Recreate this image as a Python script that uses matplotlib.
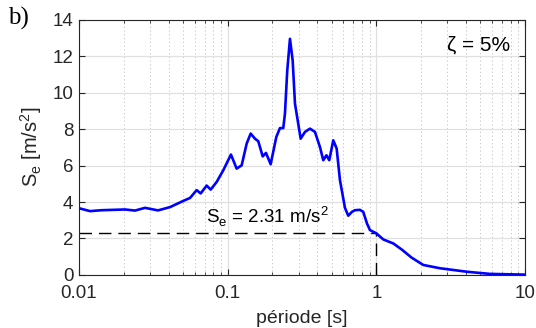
import matplotlib
matplotlib.use("Agg")
import matplotlib.pyplot as plt
from matplotlib.ticker import LogLocator, NullFormatter

# spectre de réponse (période en s, accélération en m/s^2)
periods = [0.01, 0.01186, 0.01421, 0.02039, 0.0238, 0.02779, 0.03399, 0.04093,
           0.05029, 0.05578, 0.06187, 0.06582, 0.07224, 0.07685, 0.08433, 0.09342,
           0.1052, 0.1149, 0.1242, 0.1342, 0.1428, 0.1526, 0.1606, 0.172, 0.181,
           0.1946, 0.2123, 0.2247, 0.2365, 0.2428, 0.2516, 0.2624, 0.2736, 0.2836,
           0.3097, 0.331, 0.3577, 0.3865, 0.4176, 0.4396, 0.4617, 0.4823, 0.5131,
           0.5408, 0.5691, 0.615, 0.6471, 0.6853, 0.718, 0.7757, 0.8164, 0.8646,
           0.9057, 1.0016, 1.1128, 1.2347, 1.2993, 1.4796, 1.7278, 2.068, 2.677,
           4.049, 5.808, 10.0]
accel = [3.66, 3.5, 3.55, 3.59, 3.53, 3.68, 3.54, 3.72,
         4.06, 4.22, 4.65, 4.47, 4.9, 4.68, 5.1, 5.74,
         6.6, 5.83, 6.01, 7.2, 7.75, 7.47, 7.33, 6.5, 6.69,
         6.07, 7.56, 8.05, 8.05, 8.84, 11.2, 12.94, 11.76, 9.39,
         7.47, 7.84, 8.02, 7.84, 7.01, 6.29, 6.56, 6.29, 7.38,
         6.93, 5.2, 3.68, 3.25, 3.46, 3.55, 3.57, 3.46, 2.83,
         2.46, 2.28, 1.95, 1.8, 1.73, 1.4, 0.95, 0.55, 0.37,
         0.18, 0.06, 0.02]

se_period = 1.0
se_value = 2.31

grey = (0.15, 0.15, 0.15)
plt.rcParams['font.family'] = ['Liberation Sans', 'DejaVu Sans']

fig = plt.figure(figsize=(5.36, 3.28), dpi=100)
ax = fig.add_axes([0.1474, 0.1616, 0.8321, 0.7789])

ax.plot(periods, accel, color=(0, 0, 1), lw=1.9, zorder=3)
ax.plot([0.01, se_period], [se_value, se_value], color='k', lw=1.0,
        dashes=(9, 5), zorder=2)
ax.plot([se_period, se_period], [0, se_value], color='k', lw=1.0,
        dashes=(9, 5), zorder=2)

ax.set_xscale('log')
ax.set_xlim(0.01, 10)
ax.set_ylim(0, 14)
ax.set_xticks([0.01, 0.1, 1, 10])
ax.set_xticklabels(['0.01', '0.1', '1', '10'])
ax.xaxis.set_minor_locator(LogLocator(base=10, subs=range(2, 10)))
ax.xaxis.set_minor_formatter(NullFormatter())
ax.set_yticks(range(0, 15, 2))

ax.grid(True, which='major', color=(0.88, 0.88, 0.88), lw=0.9, zorder=0)
ax.grid(True, which='minor', axis='x', color=(0.75, 0.75, 0.75), lw=0.6,
        linestyle=(0, (1.5, 3)), zorder=0)

ax.tick_params(which='both', direction='in', top=True, right=True,
               colors=grey, labelsize=13.5)
ax.tick_params(which='major', length=4, width=0.8)
ax.tick_params(which='minor', length=2.5, width=0.6)
ax.tick_params(axis='x', which='major', pad=7)
ax.tick_params(axis='y', which='major', pad=4)
for s in ax.spines.values():
    s.set_color(grey)
    s.set_linewidth(0.8)

ax.set_xlabel('période [s]', fontsize=14, color=grey, labelpad=6)
ax.set_ylabel('S$_\\mathregular{e}$ [m/s$^\\mathregular{2}$]', fontsize=14.5,
              color=grey, labelpad=6)

ax.text(0.071, 3.2, 'S$_\\mathregular{e}$ = 2.31 m/s$^\\mathregular{2}$',
        fontsize=13.5, color='k', va='center', ha='left')
ax.text(0.966, 0.9, 'ζ = 5%', transform=ax.transAxes, fontsize=15,
        color='k', ha='right', va='center')
fig.text(0.015, 0.945, 'b)', family='Liberation Serif', fontsize=18,
         ha='left', va='center')

fig.savefig('out.png', dpi=100)
